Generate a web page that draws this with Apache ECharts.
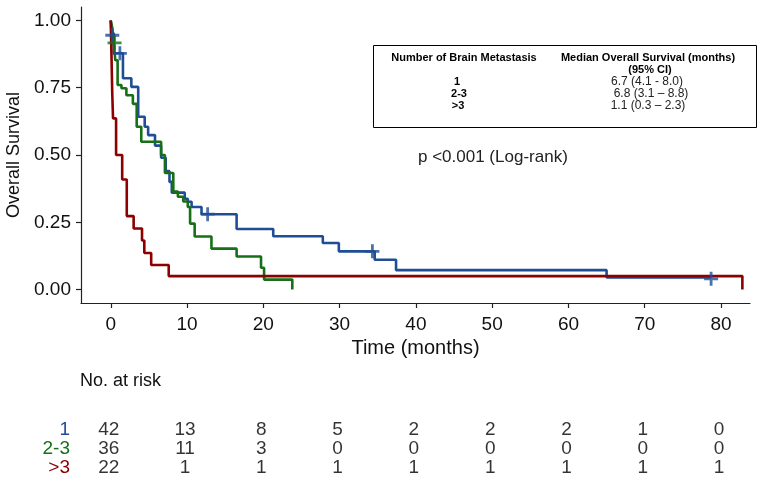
<!DOCTYPE html>
<html>
<head>
<meta charset="utf-8">
<script src="https://cdn.jsdelivr.net/npm/echarts@6/dist/echarts.min.js"></script>
<style>html,body{margin:0;padding:0;background:#fff}#c{width:762px;height:485px}</style>
</head>
<body>
<div id="c"></div>
<script>
// ---- data ----
const timeTicks = [0, 10, 20, 30, 40, 50, 60, 70, 80];
const survTicks = [0, 0.25, 0.5, 0.75, 1];
const groups = ['1', '2-3', '>3'];

// group "1" (blue)
const km1Time = [0, 0.1, 0.4, 1.6, 2.7, 3.6, 4.45, 4.9, 5.8, 6.6, 7.2, 7.7, 8.0, 9.7, 10.1, 10.6, 11.9, 16.5, 21.3, 27.8, 29.9, 34.6, 37.4, 65.0, 78.7];
const km1Surv = [1, 0.952, 0.878, 0.785, 0.753, 0.642, 0.605, 0.574, 0.535, 0.49, 0.44, 0.40, 0.36, 0.337, 0.326, 0.307, 0.28, 0.225, 0.198, 0.173, 0.142, 0.111, 0.072, 0.045, 0.045];
const cens1Time = [0.2, 1.2, 12.7, 34.3, 78.7];
const cens1Surv = [0.945, 0.878, 0.28, 0.142, 0.04];

// group "2-3" (green)
const km2Time = [0, 0.2, 0.3, 0.4, 0.6, 0.9, 1.4, 2.05, 2.9, 3.4, 4.0, 6.6, 7.1, 8.2, 8.8, 9.5, 10.1, 10.4, 11.0, 13.2, 16.5, 19.7, 20.1, 23.8];
const km2Surv = [1, 0.972, 0.944, 0.917, 0.852, 0.76, 0.748, 0.722, 0.69, 0.605, 0.549, 0.5, 0.433, 0.364, 0.345, 0.327, 0.307, 0.245, 0.197, 0.152, 0.123, 0.081, 0.037, 0];
const cens2Time = [0.5];
const cens2Surv = [0.917];

// group ">3" (red)
const km3Time = [0, 0.1, 0.2, 0.3, 0.7, 1.5, 2.1, 3.0, 4.1, 4.4, 5.3, 7.6, 82.8];
const km3Surv = [1, 0.864, 0.727, 0.636, 0.5, 0.409, 0.273, 0.227, 0.182, 0.136, 0.091, 0.05, 0];

// numbers at risk
const risk1 = [42, 13, 8, 5, 2, 2, 2, 1, 0];
const risk2 = [36, 11, 3, 0, 0, 0, 0, 0, 0];
const risk3 = [22, 1, 1, 1, 1, 1, 1, 1, 1];

// median table
const tableHead = ['Number of Brain Metastasis', 'Median Overall Survival (months)', '(95% CI)'];
const tableMedians = ['6.7 (4.1 - 8.0)', '6.8 (3.1 \u2013 8.8)', '1.1 (0.3 \u2013 2.3)'];
const pText = 'p <0.001 (Log-rank)';

// ---- styles ----
const colors = ['#1F4E96', '#176F17', '#8B0000'];
const FONT = '"Liberation Sans", Arial, sans-serif';

const zip = (a, b) => a.map((v, i) => [v, b[i]]);
const plusPath = 'path://M4,0h2v4h4v2h-4v4h-2v-4h-4v-2h4z';

function kmLine(t, s, c) {
  return { type: 'line', xAxisIndex: 0, yAxisIndex: 0, data: zip(t, s), step: 'end',
    showSymbol: false, symbol: 'none', lineStyle: { color: c, width: 2.6 }, z: 3, silent: true, animation: false };
}
function cens(t, s, c) {
  return { type: 'scatter', xAxisIndex: 0, yAxisIndex: 0, data: zip(t, s), symbol: plusPath,
    symbolSize: 14, itemStyle: { color: c }, z: 4, silent: true, animation: false };
}
function riskRow(vals, row) {
  return { type: 'scatter', xAxisIndex: 1, yAxisIndex: 1, symbolSize: 1,
    itemStyle: { color: 'rgba(0,0,0,0)' },
    data: vals.map((v, i) => ({ value: [timeTicks[i], groups[row]], label: { formatter: String(v) } })),
    label: { show: true, position: 'inside', offset: [-2, 0], color: '#000', fontSize: 19, fontFamily: FONT,
      textBorderWidth: 0, textShadowBlur: 0 },
    silent: true, animation: false };
}

const chart = echarts.init(document.getElementById('c'), null, { renderer: 'canvas' });
chart.setOption({
  animation: false,
  backgroundColor: '#fff',
  textStyle: { fontFamily: FONT },
  grid: [
    { left: 81, right: 12, top: 7, height: 296, containLabel: false, outerBoundsMode: 'none' },
    { left: 81, right: 12, top: 420, height: 57, containLabel: false, outerBoundsMode: 'none' }
  ],
  xAxis: [
    { gridIndex: 0, type: 'value', min: -3.9, max: 83.8,
      axisLine: { show: true, onZero: false, lineStyle: { color: '#222', width: 1.2 } },
      axisTick: { show: true, customValues: timeTicks, length: 5, lineStyle: { color: '#222', width: 1.2 } },
      axisLabel: { customValues: timeTicks, fontSize: 19, color: '#111', margin: 12, fontFamily: FONT },
      splitLine: { show: false },
      name: 'Time (months)', nameLocation: 'middle', nameGap: 35,
      nameTextStyle: { fontSize: 20, color: '#111', fontFamily: FONT } },
    { gridIndex: 1, type: 'value', min: -3.9, max: 83.8, show: false }
  ],
  yAxis: [
    { gridIndex: 0, type: 'value', min: -0.05, max: 1.05,
      axisLine: { show: true, onZero: false, lineStyle: { color: '#222', width: 1.2 } },
      axisTick: { show: true, customValues: survTicks, length: 5, lineStyle: { color: '#222', width: 1.2 } },
      axisLabel: { customValues: survTicks, fontSize: 19, color: '#111', margin: 10, fontFamily: FONT,
        formatter: v => Number(v).toFixed(2) },
      splitLine: { show: false },
      name: 'Overall Survival', nameLocation: 'middle', nameGap: 55, nameRotate: 90,
      nameTextStyle: { fontSize: 18, color: '#111', fontFamily: FONT } },
    { gridIndex: 1, type: 'category', data: groups, inverse: true,
      axisLine: { show: false }, axisTick: { show: false }, splitLine: { show: false },
      axisLabel: { interval: 0, margin: 11, fontSize: 19, fontFamily: FONT,
        formatter: (v, i) => '{g' + i + '|' + v + '}',
        rich: { g0: { color: colors[0], fontSize: 19, fontFamily: FONT },
                g1: { color: colors[1], fontSize: 19, fontFamily: FONT },
                g2: { color: colors[2], fontSize: 19, fontFamily: FONT } } } }
  ],
  graphic: [
    { type: 'rect', shape: { x: 373.5, y: 45.5, width: 383, height: 82 },
      style: { fill: '#fff', stroke: '#000', lineWidth: 1 }, z: 10 },
    { type: 'text', x: 464, y: 58, z: 11, style: { text: tableHead[0], font: 'bold 11px ' + FONT, fill: '#000', align: 'center', verticalAlign: 'middle' } },
    { type: 'text', x: 648, y: 58, z: 11, style: { text: tableHead[1], font: 'bold 11px ' + FONT, fill: '#000', align: 'center', verticalAlign: 'middle' } },
    { type: 'text', x: 650, y: 70, z: 11, style: { text: tableHead[2], font: 'bold 11px ' + FONT, fill: '#000', align: 'center', verticalAlign: 'middle' } },
    { type: 'text', x: 457, y: 82, z: 11, style: { text: groups[0], font: 'bold 11px ' + FONT, fill: '#000', align: 'center', verticalAlign: 'middle' } },
    { type: 'text', x: 459, y: 94, z: 11, style: { text: groups[1], font: 'bold 11px ' + FONT, fill: '#000', align: 'center', verticalAlign: 'middle' } },
    { type: 'text', x: 458, y: 106, z: 11, style: { text: groups[2], font: 'bold 11px ' + FONT, fill: '#000', align: 'center', verticalAlign: 'middle' } },
    { type: 'text', x: 647, y: 82, z: 11, style: { text: tableMedians[0], font: '12px ' + FONT, fill: '#222', align: 'center', verticalAlign: 'middle' } },
    { type: 'text', x: 651, y: 94, z: 11, style: { text: tableMedians[1], font: '12px ' + FONT, fill: '#222', align: 'center', verticalAlign: 'middle' } },
    { type: 'text', x: 648, y: 106, z: 11, style: { text: tableMedians[2], font: '12px ' + FONT, fill: '#222', align: 'center', verticalAlign: 'middle' } },
    { type: 'text', x: 418, y: 157, z: 11, style: { text: pText, font: '17px ' + FONT, fill: '#222', align: 'left', verticalAlign: 'middle' } },
    { type: 'text', x: 80, y: 381, z: 11, style: { text: 'No. at risk', font: '18px ' + FONT, fill: '#111', align: 'left', verticalAlign: 'middle' } }
  ],
  series: [
    kmLine(km1Time, km1Surv, colors[0]),
    kmLine(km2Time, km2Surv, colors[1]),
    kmLine(km3Time, km3Surv, colors[2]),
    cens(cens1Time, cens1Surv, colors[0]),
    cens(cens2Time, cens2Surv, colors[1]),
    riskRow(risk1, 0),
    riskRow(risk2, 1),
    riskRow(risk3, 2)
  ]
});
</script>
</body>
</html>
